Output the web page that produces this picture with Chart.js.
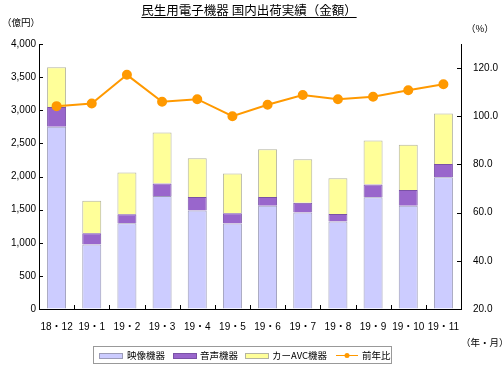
<!DOCTYPE html>
<html>
<head>
<meta charset="utf-8">
<script src="https://cdn.jsdelivr.net/npm/chart.js@4/dist/chart.umd.min.js"></script>
<style>
  html, body { margin: 0; padding: 0; background: #fff; }
  #wrap { width: 503px; height: 371px; position: relative; }
</style>
</head>
<body>
<div id="wrap"><canvas id="shipments-chart" width="503" height="371"></canvas></div>
<script>
const months = ['18・12', '19・1', '19・2', '19・3', '19・4', '19・5', '19・6', '19・7', '19・8', '19・9', '19・10', '19・11'];
const videoValues = [2750, 975, 1295, 1705, 1485, 1290, 1560, 1455, 1320, 1685, 1560, 1990];
const audioValues = [300, 170, 135, 190, 205, 155, 130, 150, 115, 195, 235, 200];
const carAvcValues = [600, 490, 630, 770, 585, 600, 720, 655, 540, 665, 685, 760];
const yoyValues = [104.2, 105.3, 117.2, 106.0, 107.1, 100.0, 104.8, 108.8, 107.1, 108.1, 110.8, 113.3];
const amountTicks = [0, 500, 1000, 1500, 2000, 2500, 3000, 3500, 4000];
const ratioTicks = [20, 40, 60, 80, 100, 120];

const JP = "'Noto Sans CJK JP', sans-serif";
const NUM = "'Liberation Sans', 'Noto Sans CJK JP', sans-serif";

// 目盛りは内向き、凡例は枠付き、タイトルと単位は手描き
const decorations = {
    id: 'decorations',
    afterDraw(chart) {
        const ctx = chart.ctx;
        const area = chart.chartArea;
        const x = chart.scales.x;
        const y = chart.scales.y;
        const y1 = chart.scales.y1;
        ctx.save();
        ctx.strokeStyle = '#000';
        ctx.lineWidth = 1;
        ctx.beginPath();
        y.ticks.forEach(t => {
            const py = Math.round(y.getPixelForValue(t.value)) + 0.5;
            ctx.moveTo(area.left, py); ctx.lineTo(area.left + 4, py);
        });
        y1.ticks.forEach(t => {
            const py = Math.round(y1.getPixelForValue(t.value)) + 0.5;
            ctx.moveTo(area.right, py); ctx.lineTo(area.right - 4, py);
        });
        for (let i = 1; i < months.length; i++) {
            const px = Math.round((x.getPixelForValue(i - 1) + x.getPixelForValue(i)) / 2) + 0.5;
            ctx.moveTo(px, area.bottom); ctx.lineTo(px, area.bottom - 4);
        }
        ctx.stroke();

        // title
        ctx.fillStyle = '#000';
        ctx.font = '12.5px ' + JP;
        ctx.textAlign = 'center';
        ctx.textBaseline = 'middle';
        const title = '民生用電子機器 国内出荷実績（金額）';
        ctx.fillText(title, 249, 10);
        const tw = ctx.measureText(title).width;
        ctx.beginPath();
        ctx.moveTo(249 - tw / 2, 17.5); ctx.lineTo(249 + tw / 2, 17.5);
        ctx.stroke();

        ctx.font = '9.5px ' + JP;
        ctx.textAlign = 'left';
        ctx.fillText('（億円）', 2, 22);
        ctx.fillText('（%）', 466, 28);
        ctx.fillText('（年・月）', 461, 342);

        // legend
        ctx.strokeStyle = '#999';
        ctx.strokeRect(93.5, 346.5, 298, 17);
        const items = [
            { ds: chart.data.datasets[0], sx: 99, tx: 127 },
            { ds: chart.data.datasets[1], sx: 173, tx: 200 },
            { ds: chart.data.datasets[2], sx: 245, tx: 272 }
        ];
        ctx.font = '9.5px ' + JP;
        items.forEach(it => {
            ctx.fillStyle = it.ds.backgroundColor;
            ctx.fillRect(it.sx, 353, 23, 5);
            ctx.strokeStyle = it.ds.borderColor;
            ctx.strokeRect(it.sx + 0.5, 353.5, 23, 5);
            ctx.fillStyle = '#000';
            ctx.fillText(it.ds.label, it.tx, 355.5);
        });
        const line = chart.data.datasets[3];
        ctx.strokeStyle = line.borderColor;
        ctx.lineWidth = 1;
        ctx.beginPath();
        ctx.moveTo(336, 355.5); ctx.lineTo(358, 355.5);
        ctx.stroke();
        ctx.fillStyle = line.backgroundColor;
        ctx.beginPath();
        ctx.arc(347, 355.5, 2.5, 0, Math.PI * 2);
        ctx.fill();
        ctx.fillStyle = '#000';
        ctx.fillText(line.label, 362, 355.5);
        ctx.restore();
    }
};

function buildShipmentsChart(container) {
    const data = {
        labels: months,
        datasets: [
            {
                type: 'bar',
                label: '映像機器',
                data: videoValues,
                backgroundColor: '#CCCCFF',
                borderColor: '#9C9CB8',
                borderWidth: 1,
                yAxisID: 'y',
                order: 1
            },
            {
                type: 'bar',
                label: '音声機器',
                data: audioValues,
                backgroundColor: '#9966CC',
                borderColor: '#7A52A6',
                borderWidth: 1,
                yAxisID: 'y',
                order: 1
            },
            {
                type: 'bar',
                label: 'カーAVC機器',
                data: carAvcValues,
                backgroundColor: '#FFFF99',
                borderColor: '#B4B4A0',
                borderWidth: 1,
                yAxisID: 'y',
                order: 1
            },
            {
                type: 'line',
                label: '前年比',
                data: yoyValues,
                borderColor: '#FF9900',
                backgroundColor: '#FF9900',
                borderWidth: 2,
                pointRadius: 4,
                pointHoverRadius: 4,
                yAxisID: 'y1',
                order: 0
            }
        ]
    };

    const config = {
        type: 'bar',
        data: data,
        plugins: [decorations],
        options: {
            responsive: false,
            animation: false,
            layout: { padding: { top: 44, left: 0, right: 0, bottom: 0 } },
            datasets: {
                bar: { barPercentage: 0.54, categoryPercentage: 1.0 }
            },
            plugins: {
                legend: { display: false },
                title: { display: false },
                tooltip: { enabled: false }
            },
            scales: {
                x: {
                    stacked: true,
                    afterFit: s => { s.height = 62; },
                    grid: { display: true, drawOnChartArea: false, drawTicks: false, offset: true },
                    border: { display: true, color: '#000', width: 1 },
                    ticks: { color: '#000', font: { size: 10, family: NUM }, padding: 12, maxRotation: 0, autoSkip: false }
                },
                y: {
                    stacked: true,
                    position: 'left',
                    min: amountTicks[0],
                    max: amountTicks[amountTicks.length - 1],
                    afterFit: s => { s.width = 39; },
                    afterBuildTicks: s => { s.ticks = amountTicks.map(v => ({ value: v })); },
                    grid: { display: true, drawOnChartArea: false, drawTicks: false },
                    border: { display: true, color: '#000', width: 1 },
                    ticks: {
                        color: '#000',
                        font: { size: 10, family: NUM },
                        padding: 3,
                        callback: v => v.toLocaleString('en-US')
                    }
                },
                y1: {
                    position: 'right',
                    min: 20,
                    max: 130,
                    afterFit: s => { s.width = 42; },
                    afterBuildTicks: s => { s.ticks = ratioTicks.map(v => ({ value: v })); },
                    grid: { display: true, drawOnChartArea: false, drawTicks: false },
                    border: { display: true, color: '#000', width: 1 },
                    ticks: {
                        color: '#000',
                        font: { size: 10, family: NUM },
                        padding: 12,
                        callback: v => v.toFixed(1)
                    }
                }
            }
        }
    };

    new Chart(container, config);
}

addEventListener('DOMContentLoaded', () => {
    const container = document.getElementById('shipments-chart');
    if (container) {
        buildShipmentsChart(container);
    }
});
</script>
</body>
</html>
